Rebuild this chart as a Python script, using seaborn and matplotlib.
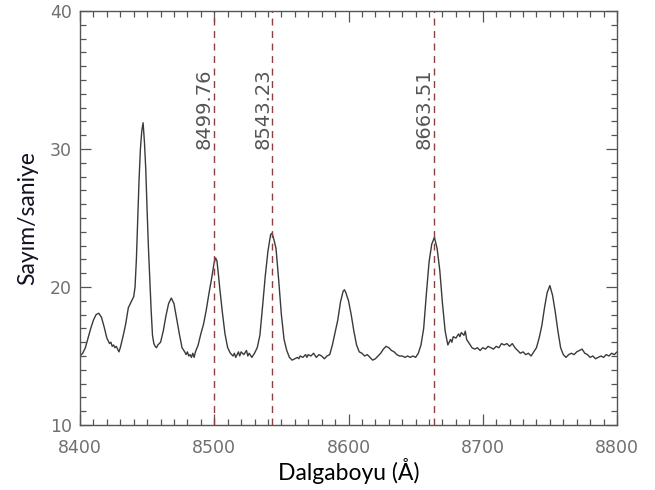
#!/usr/bin/env python3
"""
Ca II triplet region spectrum (Sayim/saniye vs Dalgaboyu)
"""

import pandas as pd
import matplotlib
matplotlib.use('Agg')
import matplotlib.pyplot as plt
from matplotlib.ticker import MultipleLocator
import seaborn as sns

# --------------------------------------------------
# spectrum
wavelength = [
    8400, 8402, 8404, 8406, 8408, 8410, 8412, 8414, 8416, 8418,
    8420, 8422, 8423, 8424, 8425, 8426, 8427, 8428, 8429, 8430,
    8432, 8434, 8436, 8438, 8440, 8441, 8442, 8443, 8444, 8445,
    8446, 8447, 8448, 8449, 8450, 8451, 8452, 8453, 8454, 8455,
    8456, 8457, 8458, 8460, 8462, 8464, 8466, 8468, 8470, 8472,
    8474, 8476, 8478, 8479, 8480, 8481, 8482, 8483, 8484, 8485,
    8486, 8488, 8490, 8492, 8494, 8496, 8498, 8500, 8501, 8502,
    8503, 8504, 8506, 8508, 8510, 8512, 8514, 8515, 8516, 8518,
    8519, 8520, 8522, 8524, 8525, 8526, 8528, 8530, 8532, 8534,
    8536, 8538, 8540, 8542, 8543, 8544, 8546, 8548, 8550, 8552,
    8554, 8556, 8558, 8560, 8562, 8563, 8564, 8566, 8568, 8569,
    8570, 8572, 8574, 8576, 8578, 8580, 8582, 8584, 8586, 8588,
    8590, 8592, 8594, 8596, 8597, 8598, 8600, 8602, 8604, 8606,
    8608, 8610, 8612, 8614, 8616, 8618, 8620, 8622, 8624, 8626,
    8628, 8630, 8632, 8634, 8636, 8638, 8640, 8642, 8644, 8646,
    8648, 8650, 8652, 8654, 8656, 8658, 8660, 8662, 8664, 8666,
    8668, 8670, 8672, 8674, 8676, 8677, 8678, 8680, 8682, 8683,
    8684, 8686, 8687, 8688, 8690, 8692, 8694, 8696, 8698, 8700,
    8702, 8704, 8706, 8708, 8710, 8712, 8714, 8716, 8718, 8720,
    8722, 8724, 8726, 8728, 8730, 8732, 8734, 8736, 8738, 8740,
    8742, 8744, 8746, 8748, 8750, 8752, 8754, 8756, 8758, 8760,
    8762, 8764, 8766, 8768, 8770, 8772, 8774, 8776, 8778, 8780,
    8782, 8784, 8786, 8788, 8790, 8792, 8794, 8796, 8798, 8800,
]
counts = [
    15.0, 15.2, 15.6, 16.3, 17.0, 17.6, 18.0, 18.1, 17.8, 17.1,
    16.3, 15.9, 16.0, 15.7, 15.8, 15.6, 15.7, 15.5, 15.3, 15.6,
    16.4, 17.3, 18.5, 18.9, 19.3, 20.0, 22.0, 25.0, 27.8, 30.0,
    31.3, 31.9, 30.5, 28.5, 25.5, 22.8, 20.5, 18.3, 16.5, 15.9,
    15.7, 15.6, 15.8, 16.0, 16.8, 17.9, 18.8, 19.2, 18.8, 17.7,
    16.6, 15.6, 15.3, 15.1, 15.3, 15.0, 15.1, 14.9, 15.2, 14.9,
    15.3, 15.8, 16.6, 17.3, 18.3, 19.5, 20.6, 21.8, 22.1, 21.9,
    21.0, 20.0, 18.2, 16.6, 15.6, 15.2, 15.0, 15.2, 14.9, 15.3,
    15.0, 15.3, 15.1, 15.4, 15.0, 15.2, 14.9, 15.2, 15.6, 16.5,
    18.6, 20.8, 22.6, 23.8, 23.9, 23.6, 22.8, 20.5, 18.0, 16.2,
    15.4, 14.9, 14.7, 14.8, 14.9, 14.8, 15.0, 14.9, 15.1, 14.9,
    15.1, 15.0, 15.2, 14.9, 15.1, 15.0, 14.8, 15.0, 15.1, 15.8,
    16.7, 17.6, 18.9, 19.7, 19.8, 19.6, 19.0, 18.0, 16.8, 15.8,
    15.3, 15.2, 15.0, 15.1, 14.9, 14.7, 14.8, 15.0, 15.2, 15.5,
    15.7, 15.6, 15.4, 15.3, 15.1, 15.0, 15.0, 14.9, 15.0, 14.9,
    15.0, 14.9, 15.2, 15.8, 17.0, 19.5, 21.8, 23.1, 23.6, 22.8,
    21.2, 18.8, 16.8, 15.8, 16.2, 16.0, 16.4, 16.3, 16.6, 16.4,
    16.7, 16.5, 16.8, 16.2, 15.9, 15.6, 15.5, 15.6, 15.4, 15.6,
    15.5, 15.7, 15.6, 15.5, 15.7, 15.6, 15.9, 15.8, 15.9, 15.7,
    15.9, 15.6, 15.4, 15.2, 15.3, 15.1, 15.2, 15.0, 15.3, 15.6,
    16.3, 17.2, 18.5, 19.6, 20.1, 19.4, 18.2, 16.8, 15.6, 15.1,
    14.9, 15.1, 15.2, 15.1, 15.3, 15.4, 15.5, 15.2, 15.1, 14.9,
    15.0, 14.8, 14.9, 15.0, 14.9, 15.1, 15.0, 15.2, 15.1, 15.3,
]

# Ca II triplet markers
line_pos = [8499.76, 8543.23, 8663.51]
line_labels = ['8499.76', '8543.23', '8663.51']


# --------------------------------------------------
def main():
    """Draw the spectrum"""

    sns.set_style('ticks')
    plt.rcParams['font.family'] = ['DejaVu Sans']

    df = pd.DataFrame({'wl': wavelength, 'cnt': counts})

    fig = plt.figure(figsize=(6.55, 4.9), dpi=100)
    ax = fig.add_axes([80 / 655, 65 / 490, 537 / 655, 414 / 490])

    sns.lineplot(data=df, x='wl', y='cnt', ax=ax, color='#3a3a3a',
                 linewidth=1.0, estimator=None)

    for pos, lab in zip(line_pos, line_labels):
        ax.axvline(pos, color='#8c4040', linestyle=(0, (5, 4)), linewidth=1.0)
        ax.text(pos, 30.0, lab, rotation=90, ha='right', va='bottom',
                fontsize=14, color='#555555')

    ax.set_xlim(8400, 8800)
    ax.set_ylim(10, 40)
    ax.xaxis.set_major_locator(MultipleLocator(100))
    ax.xaxis.set_minor_locator(MultipleLocator(10))
    ax.yaxis.set_major_locator(MultipleLocator(10))
    ax.yaxis.set_minor_locator(MultipleLocator(1))

    ax.tick_params(which='both', direction='in', top=True, right=True,
                   color='#555555', width=0.9)
    ax.tick_params(which='major', length=8)
    ax.tick_params(which='minor', length=4.5)
    ax.tick_params(axis='x', which='major', pad=10, labelsize=12.5,
                   labelcolor='#707070')
    ax.tick_params(axis='y', which='major', pad=6, labelsize=12.5,
                   labelcolor='#707070')
    for sp in ax.spines.values():
        sp.set_color('#555555')
        sp.set_linewidth(1.0)

    ax.set_xlabel('Dalgaboyu (Å)', fontsize=16.5, family=['Lato', 'DejaVu Sans'],
                  color='black', labelpad=1)
    ax.set_ylabel('Sayım/saniye', fontsize=16.5, family=['Lato', 'DejaVu Sans'],
                  color='#111122', labelpad=8)

    fig.savefig('out.png', dpi=100)


# --------------------------------------------------
if __name__ == '__main__':
    main()
